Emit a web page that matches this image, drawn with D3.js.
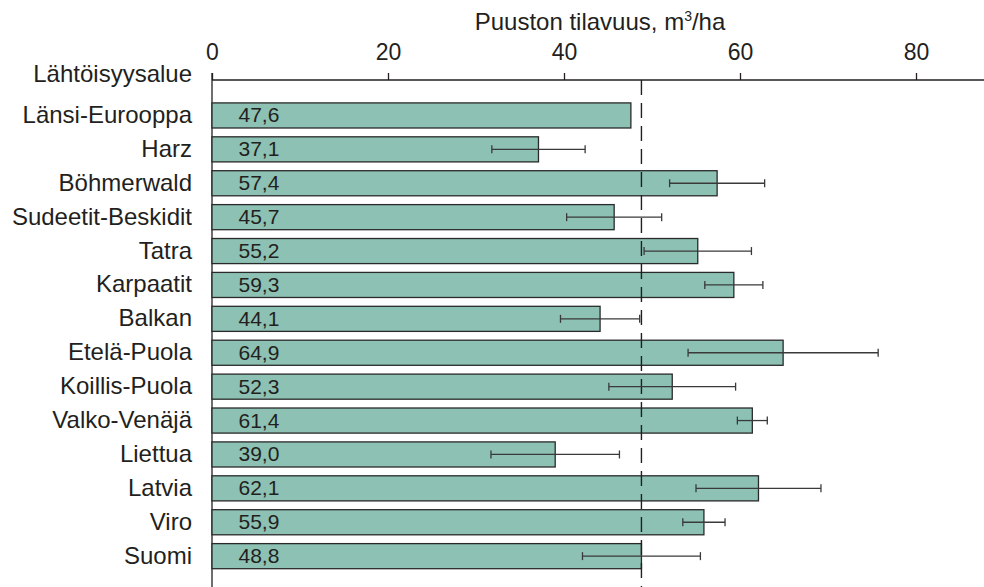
<!DOCTYPE html>
<html>
<head>
<meta charset="utf-8">
<script src="https://cdn.jsdelivr.net/npm/d3@7"></script>
<style>
  html, body { margin: 0; padding: 0; background: #ffffff; }
  text { font-family: "Liberation Sans", Arial, Helvetica, sans-serif; fill: #231f20; }
</style>
</head>
<body>
<svg id="chart" width="984" height="587"></svg>
<script>
// Origin regions (Norway spruce provenance trial), stand volume in m3/ha
const categories = ["Länsi-Eurooppa", "Harz", "Böhmerwald", "Sudeetit-Beskidit", "Tatra",
  "Karpaatit", "Balkan", "Etelä-Puola", "Koillis-Puola", "Valko-Venäjä",
  "Liettua", "Latvia", "Viro", "Suomi"];
const values = [47.6, 37.1, 57.4, 45.7, 55.2, 59.3, 44.1, 64.9, 52.3, 61.4, 39.0, 62.1, 55.9, 48.8];
// half-width of the error whisker; null = not shown
const errors = [null, 5.3, 5.4, 5.4, 6.1, 3.3, 4.5, 10.8, 7.2, 1.7, 7.3, 7.1, 2.4, 6.7];
const tickValues = [0, 20, 40, 60, 80];
const referenceValue = 48.8; // Suomi level, dashed line
const axisTitle = "Puuston tilavuus, m";
const axisTitleSup = "3";
const axisTitleEnd = "/ha";
const categoryTitle = "Lähtöisyysalue";

const W = 984, H = 587;
const svg = d3.select("#chart");

const x = d3.scaleLinear().domain([0, 80]).range([212, 916]);
const y = d3.scaleBand().domain(categories)
  .range([98.5, 573.1]).paddingInner(0.26).paddingOuter(0.13);

const axisY = 80;
const ink = "#231f20";

// top axis
const axis = d3.axisTop(x).tickValues(tickValues).tickSize(7).tickPadding(13)
  .tickFormat(d3.format("d"));
const gx = svg.append("g").attr("transform", `translate(0,${axisY})`).call(axis);
gx.select(".domain").remove();
gx.selectAll(".tick line").attr("stroke", ink).attr("stroke-width", 1.3);
gx.selectAll(".tick text").attr("font-size", 23).attr("fill", ink)
  .style("font-family", "'Liberation Sans', Arial, sans-serif");

svg.append("line").attr("x1", x(0)).attr("x2", W).attr("y1", axisY).attr("y2", axisY)
  .attr("stroke", ink).attr("stroke-width", 1.3);
svg.append("line").attr("x1", x(0)).attr("x2", x(0)).attr("y1", axisY - 7).attr("y2", H)
  .attr("stroke", ink).attr("stroke-width", 1.3);

// axis title
const title = svg.append("text").attr("x", 600).attr("y", 30)
  .attr("text-anchor", "middle").attr("font-size", 24);
title.append("tspan").text(axisTitle);
title.append("tspan").text(axisTitleSup).attr("font-size", 14).attr("dy", -9);
title.append("tspan").text(axisTitleEnd).attr("dy", 9);

svg.append("text").attr("x", 192).attr("y", 82).attr("text-anchor", "end")
  .attr("font-size", 24).text(categoryTitle);

// bars
svg.append("g").selectAll("rect").data(categories).join("rect")
  .attr("x", x(0))
  .attr("y", d => y(d))
  .attr("width", (d, i) => x(values[i]) - x(0))
  .attr("height", y.bandwidth())
  .attr("fill", "#8cc1b3")
  .attr("stroke", "#2a2a2a")
  .attr("stroke-width", 1.3);

// category labels
svg.append("g").selectAll("text").data(categories).join("text")
  .attr("x", 192)
  .attr("y", d => y(d) + y.bandwidth() / 2 + 7.5)
  .attr("text-anchor", "end")
  .attr("font-size", 24)
  .text(d => d);

// value labels inside the bars
svg.append("g").selectAll("text").data(categories).join("text")
  .attr("x", x(0) + 26.5)
  .attr("y", d => y(d) + y.bandwidth() / 2 + 7)
  .attr("font-size", 21)
  .text((d, i) => d3.format(".1f")(values[i]).replace(".", ","));

// reference line
svg.append("line")
  .attr("x1", x(referenceValue)).attr("x2", x(referenceValue))
  .attr("y1", axisY).attr("y2", H)
  .attr("stroke", ink).attr("stroke-width", 1.4)
  .attr("stroke-dasharray", "15,8");

// error whiskers
const eg = svg.append("g").attr("stroke", "#3a3a3a").attr("stroke-width", 1.3);
categories.forEach((c, i) => {
  const e = errors[i];
  if (e == null) return;
  const cy = y(c) + y.bandwidth() / 2;
  const x1 = x(values[i] - e), x2 = x(values[i] + e);
  eg.append("line").attr("x1", x1).attr("x2", x2).attr("y1", cy).attr("y2", cy);
  eg.append("line").attr("x1", x1).attr("x2", x1).attr("y1", cy - 4).attr("y2", cy + 4);
  eg.append("line").attr("x1", x2).attr("x2", x2).attr("y1", cy - 4).attr("y2", cy + 4);
});
</script>
</body>
</html>
